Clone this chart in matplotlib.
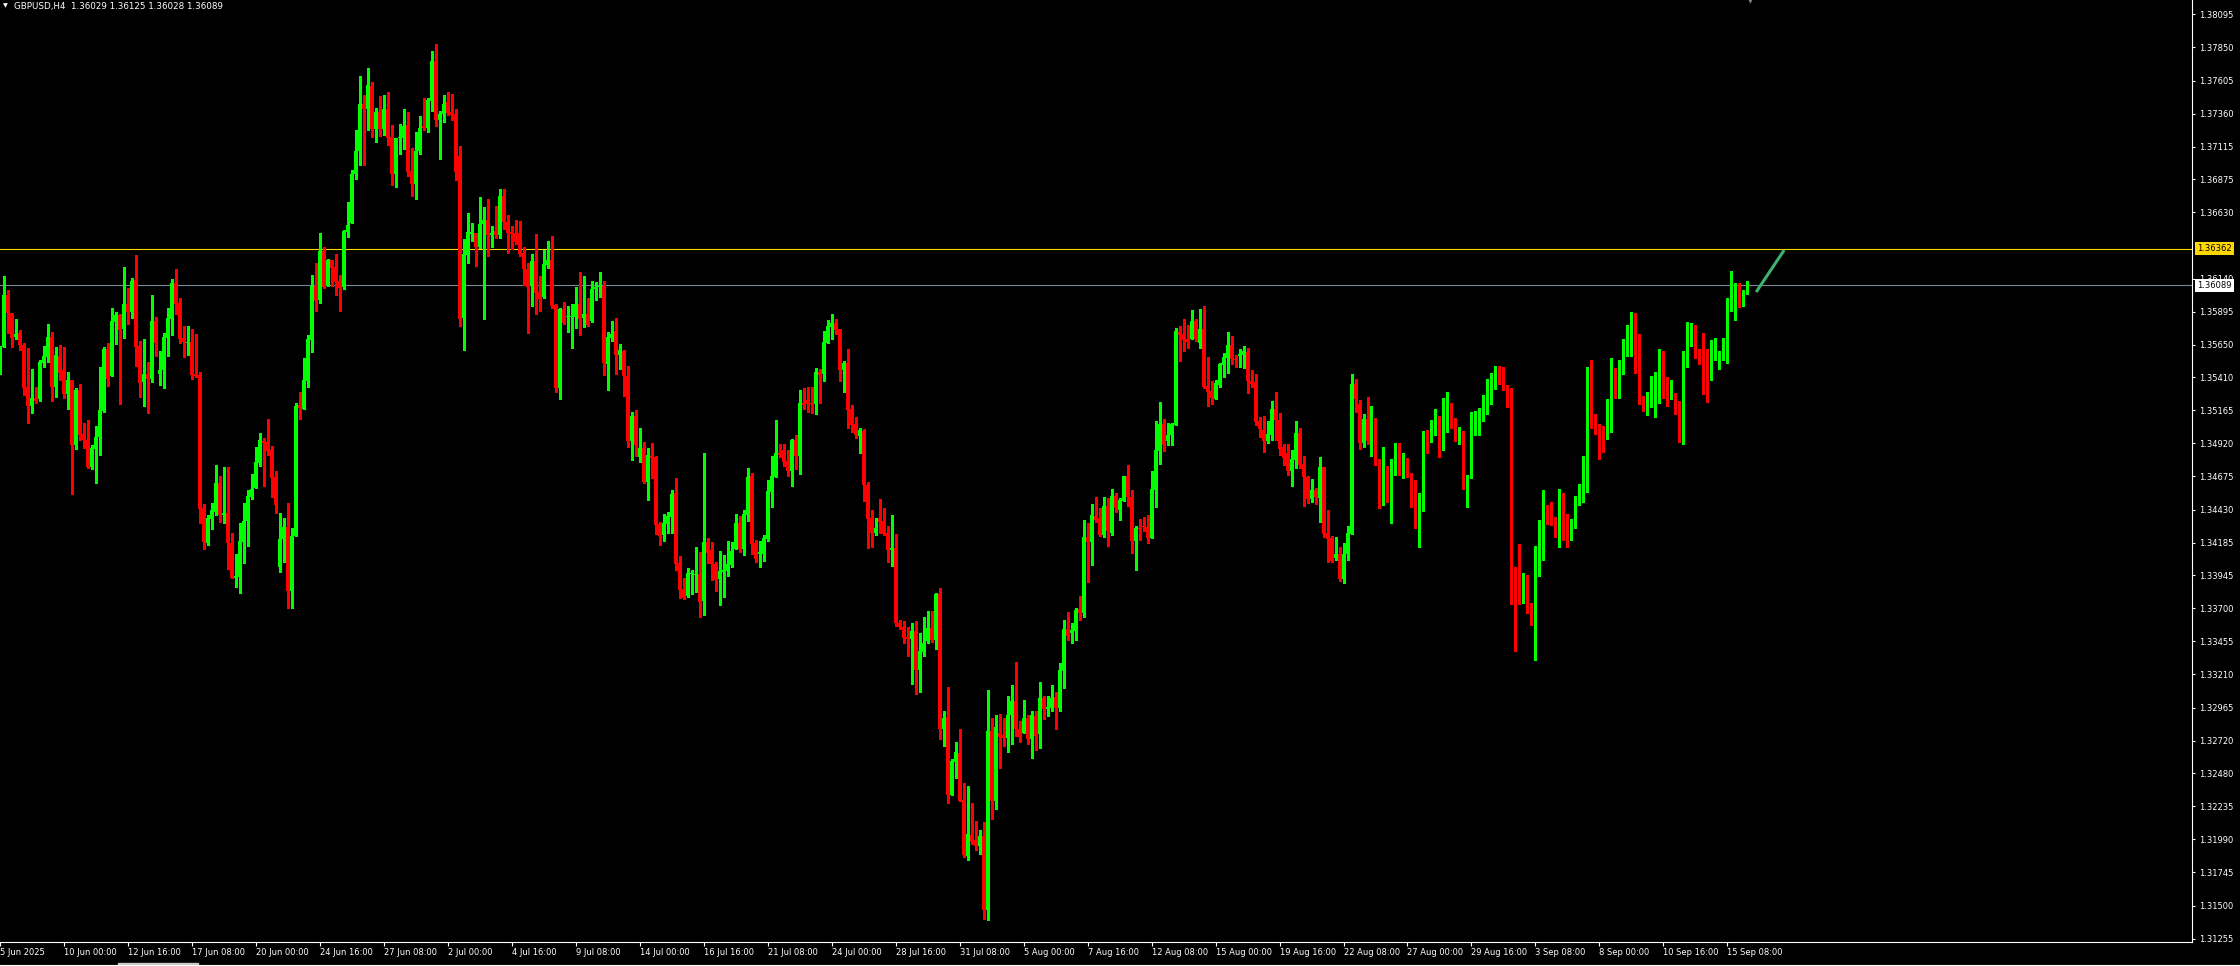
import numpy as np
import matplotlib
matplotlib.use("Agg")
import matplotlib.pyplot as plt
import matplotlib.transforms as mtransforms
from matplotlib.lines import Line2D
from matplotlib.patches import Rectangle

# GBPUSD H4 candles, values in points above 1.30000 (first entry is the half-cut bar at the left edge)
opens = [
    5438, 5636, 6018, 5882, 5710, 5734, 5645, 5337, 5199, 5253, 5251,
    5517, 5562, 5707, 5340, 5567, 5463, 5285, 5389, 4910, 5315,
    4989, 4945, 4745, 4881, 4967, 5159, 5618, 5421, 5821, 5870,
    5769, 5951, 5895, 6129, 5641, 5377, 5433, 5399, 5826, 5433,
    5465, 5702, 5843, 6107, 5959, 5702, 5665, 5670, 5433, 5426,
    4439, 4185, 4363, 4414, 4627, 4390, 4402, 4185, 3926, 3933,
    4192, 4345, 4525, 4592, 4777, 4937, 4930, 4871, 4671, 4007,
    4210, 4301, 3827, 4237, 5201, 5178, 5382, 5688, 6083, 5983,
    6342, 6086, 6278, 6225, 6119, 6078, 6484, 6551, 6910, 7080,
    7431, 7394, 7561, 7250, 7372, 7250, 7394, 7186, 6910, 7180,
    7180, 7277, 6935, 6843, 7080, 7269, 7255, 7455, 7751, 7316,
    7358, 7444, 7372, 7358, 7046, 5849, 6314, 6473, 6476, 6373,
    6540, 6573, 6459, 6492, 6462, 6751, 6559, 6484, 6478, 6478,
    6328, 6214, 6086, 6270, 6041, 6000, 6242, 6278, 5944, 5330,
    5916, 5855, 5857, 5857, 5955, 5849, 5874, 5822, 6064, 6080,
    6086, 5510, 5702, 5751, 5574, 5603, 5418, 4937, 5122, 4819,
    4886, 4634, 4826, 4819, 4323, 4244, 4323, 4375, 4552, 4034,
    3840, 3790, 3953, 3946, 3953, 3753, 4190, 4131, 4027, 3916,
    3968, 3975, 4020, 4138, 4330, 4138, 4390, 4678, 4182, 4101,
    4101, 4212, 4560, 4671, 4849, 4871, 4789, 4715, 4945, 4826,
    5219, 5241, 5219, 5211, 5448, 5433, 5663, 5781, 5811, 5766,
    5463, 5515, 5174, 5063, 4975, 5012, 4612, 4367, 4256, 4367,
    4345, 4256, 4131, 4145, 3590, 3558, 3486, 3474, 3531, 3246,
    3379, 3460, 3555, 3466, 3804, 2803, 2895, 2321, 2562, 2630,
    2282, 1869, 2024, 1985, 1940, 2018, 1468, 2791, 2276, 2776,
    2764, 2740, 2910, 3014, 2803, 2776, 2889, 2734, 2904, 2770,
    3037, 2954, 2963, 3043, 2963, 3237, 3546, 3513, 3534, 3694,
    3668, 4227, 4191, 4384, 4369, 4241, 4456, 4256, 4530, 4429,
    4497, 4675, 4524, 4197, 4295, 4307, 4301, 4221, 4577, 4866,
    5062, 4937, 4979, 5059, 5743, 5728, 5692, 5689, 5826, 5665,
    5767, 5342, 5307, 5251, 5352, 5500, 5554, 5648, 5544, 5569,
    5574, 5596, 5382, 5374, 5086, 5019, 4937, 4982, 5174, 5093,
    4891, 4846, 4715, 4797, 4997, 4767, 4674, 4506, 4575, 4518,
    4743, 4254, 4222, 4074, 4101, 3919, 4101, 4252, 5359, 5211,
    4925, 5100, 4940, 5078, 4782, 4545, 4708, 4642, 4782, 4797,
    4708, 4745, 4693, 4553, 4400, 4451, 5004, 4930, 5019, 5034,
    4997, 5049, 5204, 5071, 4975, 4989, 4582, 4679, 5019, 5012,
    5108, 5226, 5285, 5352, 5419, 5411, 5352, 5204, 3990, 3924,
    3827, 3916, 3687, 3608, 4059, 4156, 4405, 4390, 4360, 4264,
    4390, 4375, 4205, 4293, 4501, 4597, 4797, 5478, 5122, 5026,
    5004, 4952, 5071, 5441, 5263, 5433, 5655, 5781, 5863, 5537,
    5256, 5197, 5211, 5337, 5404, 5544, 5337, 5248, 5285, 5152,
    5012, 5507, 5692, 5707, 5567, 5567, 5456, 5448, 5582, 5507,
    5574, 5611, 5907, 5944, 6085, 5996, 6029,
]
highs = [
    5640, 6159, 6055, 5882, 5840, 5759, 5660, 5623, 5468, 5335, 5537,
    5640, 5803, 5744, 5631, 5645, 5631, 5448, 5392, 5330, 5359,
    5068, 5093, 4910, 5048, 5485, 5631, 5660, 5919, 5895, 5877,
    6225, 6070, 6141, 6314, 5678, 5692, 5522, 6018, 5853, 5604,
    5737, 5922, 6136, 6210, 5993, 5786, 5789, 5766, 5729, 5446,
    4471, 4387, 4476, 4760, 4678, 4743, 4743, 4254, 4101, 4331,
    4476, 4575, 4693, 4891, 4997, 4957, 5100, 4900, 4715, 4404,
    4368, 4479, 4294, 5219, 5301, 5551, 5721, 6167, 6256, 6476,
    6370, 6286, 6280, 6325, 6164, 6498, 6704, 6941, 7236, 7639,
    7497, 7698, 7595, 7403, 7492, 7497, 7520, 7277, 7180, 7283,
    7394, 7372, 7105, 7225, 7339, 7475, 7475, 7823, 7876, 7380,
    7497, 7520, 7506, 7394, 7122, 6431, 6626, 6551, 6480, 6743,
    6670, 6729, 6529, 6676, 6801, 6801, 6607, 6531, 6573, 6565,
    6370, 6258, 6323, 6470, 6155, 6350, 6414, 6456, 5952, 5924,
    5966, 5933, 5955, 6080, 6189, 6158, 5997, 6119, 6114, 6189,
    6119, 5744, 5825, 5848, 5655, 5611, 5492, 5152, 5167, 5034,
    4930, 4886, 4923, 4826, 4338, 4397, 4412, 4575, 4664, 4086,
    3923, 3997, 3983, 4153, 4116, 4846, 4219, 4190, 4042, 4123,
    4094, 4197, 4190, 4397, 4382, 4427, 4737, 4700, 4205, 4197,
    4241, 4649, 4826, 5093, 4915, 4915, 4871, 4952, 4982, 5315,
    5330, 5337, 5337, 5478, 5470, 5751, 5833, 5877, 5840, 5766,
    5529, 5618, 5204, 5115, 5034, 5026, 4634, 4427, 4367, 4508,
    4441, 4308, 4390, 4249, 3610, 3602, 3564, 3587, 3602, 3513,
    3632, 3680, 3680, 3813, 3849, 2939, 3118, 2583, 2710, 2805,
    2404, 2386, 2258, 2125, 2059, 2119, 3094, 2889, 2910, 2918,
    2889, 3052, 3133, 3302, 2865, 3023, 2910, 2939, 2939, 3153,
    3052, 3052, 3133, 3079, 3296, 3614, 3674, 3590, 3700, 3790,
    4354, 4331, 4470, 4521, 4441, 4521, 4515, 4583, 4554, 4515,
    4681, 4759, 4574, 4307, 4360, 4375, 4390, 4717, 5089, 5226,
    5104, 5071, 5074, 5773, 5787, 5841, 5796, 5906, 5841, 5915,
    5936, 5558, 5379, 5389, 5517, 5589, 5744, 5715, 5574, 5616,
    5641, 5623, 5463, 5433, 5115, 5123, 5086, 5234, 5300, 5145,
    4915, 4915, 4871, 5086, 5034, 4826, 4678, 4656, 4592, 4817,
    4745, 4427, 4234, 4227, 4153, 4183, 4306, 5433, 5396, 5241,
    5137, 5263, 5197, 5108, 4804, 4893, 4755, 4804, 4923, 4923,
    4849, 4812, 4701, 4649, 4553, 5012, 5019, 5093, 5174, 5123,
    5256, 5300, 5219, 5108, 5041, 5012, 4686, 5152, 5160, 5182,
    5278, 5396, 5441, 5493, 5493, 5485, 5352, 5330, 4007, 4175,
    3961, 3946, 3741, 4163, 4353, 4575, 4464, 4486, 4375, 4582,
    4553, 4397, 4360, 4530, 4619, 4826, 5485, 5537, 5137, 5063,
    5049, 5248, 5552, 5478, 5537, 5692, 5796, 5892, 5885, 5729,
    5271, 5300, 5419, 5448, 5618, 5604, 5411, 5389, 5293, 5234,
    5604, 5818, 5811, 5796, 5618, 5737, 5618, 5685, 5700, 5604,
    5700, 5996, 6196, 6107, 6107, 6055, 6125,
]
lows = [
    5430, 5631, 5739, 5636, 5692, 5611, 5278, 5068, 5147, 5216, 5233,
    5488, 5525, 5233, 5266, 5389, 5256, 5174, 4545, 4878, 4945,
    4886, 4738, 4728, 4627, 4834, 5152, 5344, 5418, 5655, 5211,
    5700, 5803, 5848, 5492, 5263, 5199, 5147, 5377, 5567, 5349,
    5332, 5567, 5722, 5877, 5665, 5562, 5574, 5399, 5414, 4328,
    4141, 4165, 4289, 4387, 4340, 4328, 3993, 3921, 3859, 3815,
    4032, 4163, 4506, 4587, 4752, 4607, 4834, 4525, 4402, 3970,
    4044, 3700, 3704, 4234, 5103, 5178, 5340, 5599, 5897, 5961,
    6069, 6086, 6086, 6019, 5897, 6064, 6448, 6551, 6879, 6977,
    6982, 7236, 7186, 7152, 7191, 7200, 7130, 6832, 6818, 7060,
    7099, 6902, 6754, 6732, 7060, 7238, 7227, 7380, 7272, 7027,
    7297, 7347, 7311, 6871, 5785, 5613, 6258, 6420, 6231, 6364,
    5844, 6309, 6373, 6442, 6442, 6509, 6331, 6359, 6398, 6309,
    6091, 5738, 5936, 5880, 5897, 5998, 6220, 5919, 5300, 5245,
    5800, 5746, 5626, 5774, 5724, 5780, 5785, 5820, 5980, 6002,
    5426, 5315, 5677, 5433, 5470, 5270, 4893, 4797, 4826, 4782,
    4630, 4501, 4664, 4249, 4168, 4197, 4256, 4256, 3983, 3775,
    3768, 3783, 3805, 3820, 3635, 3650, 4034, 3909, 3827, 3724,
    3783, 3938, 4005, 4138, 4116, 4094, 4345, 4101, 4042, 4005,
    4049, 4197, 4449, 4671, 4819, 4752, 4678, 4604, 4730, 4693,
    5174, 5152, 5145, 5137, 5219, 5381, 5663, 5692, 5729, 5381,
    5300, 5034, 5004, 4960, 4849, 4493, 4145, 4153, 4241, 4256,
    4241, 4042, 4012, 3570, 3545, 3439, 3350, 3141, 3067, 3082,
    3344, 3439, 3451, 3400, 2731, 2681, 2258, 2315, 2443, 2276,
    1860, 1839, 1952, 1914, 1884, 1399, 1393, 2143, 2211, 2517,
    2681, 2633, 2693, 2752, 2710, 2776, 2696, 2588, 2651, 2666,
    2877, 2904, 2942, 2803, 2942, 3112, 3462, 3442, 3468, 3614,
    3638, 3894, 4021, 4337, 4236, 4230, 4164, 4241, 4414, 4354,
    4491, 4459, 4108, 3980, 4206, 4271, 4182, 4221, 4450, 4771,
    4866, 4910, 4910, 5059, 5526, 5603, 5624, 5689, 5674, 5624,
    5333, 5193, 5214, 5251, 5340, 5414, 5443, 5507, 5488, 5488,
    5480, 5295, 5340, 5056, 4970, 4858, 4925, 4945, 4945, 4834,
    4760, 4686, 4604, 4740, 4740, 4459, 4476, 4486, 4469, 4340,
    4229, 4044, 4044, 4057, 3901, 3889, 4057, 4252, 5155, 4881,
    4896, 4915, 4829, 4762, 4444, 4466, 4488, 4333, 4686, 4686,
    4664, 4671, 4449, 4296, 4155, 4422, 4851, 4930, 4982, 4821,
    4871, 5004, 5034, 4937, 4915, 4582, 4452, 4664, 4982, 4982,
    5086, 5137, 5211, 5322, 5359, 5315, 5192, 3734, 3386, 3734,
    3741, 3662, 3578, 3319, 3941, 4059, 4323, 4316, 4227, 4153,
    4205, 4153, 4205, 4293, 4464, 4486, 4560, 5034, 4989, 4804,
    4856, 4952, 5004, 5256, 5256, 5433, 5567, 5567, 5441, 5211,
    5160, 5130, 5189, 5115, 5219, 5256, 5197, 5248, 5137, 4930,
    4915, 5485, 5641, 5552, 5507, 5285, 5226, 5389, 5537, 5470,
    5537, 5515, 5900, 5833, 5929, 5937, 6028,
]
closes = [
    5636, 6018, 5882, 5702, 5729, 5645, 5332, 5199, 5253, 5233, 5522,
    5564, 5707, 5340, 5571, 5443, 5285, 5389, 4910, 5315, 4982,
    4945, 4745, 4886, 4967, 5167, 5618, 5399, 5826, 5870, 5761,
    5951, 5895, 6122, 5636, 5369, 5433, 5399, 5826, 5665, 5463,
    5707, 5848, 6107, 5954, 5692, 5673, 5670, 5426, 5421, 4437,
    4192, 4368, 4427, 4627, 4390, 4407, 4185, 3926, 3938, 4197,
    4345, 4530, 4580, 4784, 4945, 4925, 4863, 4666, 4464, 4212,
    4301, 3827, 4234, 5199, 5181, 5390, 5691, 6083, 5975, 6342,
    6075, 6278, 6220, 6114, 6072, 6490, 6534, 6913, 7083, 7431,
    7394, 7570, 7250, 7372, 7250, 7394, 7180, 6910, 7180, 7186,
    7269, 6929, 6843, 7083, 7255, 7255, 7461, 7751, 7316, 7358,
    7431, 7367, 7353, 6929, 5844, 6323, 6484, 6484, 6373, 6542,
    6573, 6459, 6478, 6459, 6751, 6559, 6478, 6473, 6412, 6323,
    6214, 6080, 6270, 6036, 5988, 6247, 6278, 5938, 5330, 5916,
    5808, 5866, 5863, 5955, 5844, 5874, 5799, 6064, 6080, 6086,
    5515, 5707, 5729, 5574, 5611, 5418, 4937, 5122, 4908, 4886,
    4634, 4834, 4812, 4316, 4234, 4330, 4382, 4545, 4027, 3835,
    3775, 3960, 3960, 3953, 3746, 4190, 4108, 4027, 3909, 3975,
    3983, 4027, 4123, 4330, 4138, 4397, 4671, 4175, 4064, 4116,
    4219, 4567, 4678, 4849, 4834, 4782, 4715, 4945, 4826, 5219,
    5204, 5211, 5211, 5448, 5426, 5670, 5788, 5811, 5759, 5463,
    5515, 5167, 5056, 4982, 5019, 4612, 4360, 4256, 4293, 4338,
    4249, 4131, 4145, 3590, 3564, 3483, 3474, 3531, 3246, 3385,
    3442, 3555, 3466, 3804, 2803, 2889, 2321, 2571, 2636, 2276,
    1875, 2030, 1973, 1940, 2015, 1468, 2791, 2276, 2820, 2746,
    2740, 2910, 3014, 2803, 2749, 2889, 2734, 2910, 2758, 3037,
    2951, 2972, 3037, 2963, 3243, 3546, 3492, 3540, 3688, 3668,
    4227, 4188, 4390, 4354, 4241, 4456, 4268, 4530, 4441, 4500,
    4675, 4524, 4197, 4295, 4286, 4301, 4221, 4583, 4872, 5062,
    4910, 4982, 5062, 5752, 5722, 5686, 5668, 5826, 5689, 5767,
    5339, 5300, 5258, 5364, 5507, 5559, 5648, 5542, 5537, 5581,
    5604, 5382, 5359, 5081, 5029, 4937, 4989, 5174, 5095, 4878,
    4814, 4715, 4804, 4997, 4760, 4674, 4506, 4575, 4525, 4743,
    4252, 4212, 4052, 4101, 3919, 4101, 4257, 5359, 5251, 4925,
    5100, 4940, 5078, 4777, 4538, 4708, 4634, 4789, 4797, 4708,
    4738, 4686, 4538, 4400, 4456, 5004, 4925, 5034, 5034, 5004,
    5056, 5204, 5041, 4967, 4989, 4582, 4686, 5019, 5026, 5115,
    5241, 5293, 5359, 5419, 5374, 5352, 5197, 3978, 3916, 3827,
    3909, 3679, 3608, 4072, 4160, 4405, 4360, 4353, 4264, 4390,
    4375, 4205, 4286, 4508, 4604, 4804, 5478, 5108, 5034, 4997,
    4952, 5078, 5441, 5263, 5426, 5663, 5781, 5863, 5530, 5248,
    5182, 5219, 5345, 5419, 5537, 5330, 5226, 5293, 5145, 5012,
    5515, 5700, 5715, 5559, 5559, 5448, 5448, 5589, 5589, 5582,
    5618, 5914, 5951, 6085, 5981, 6025, 6089,
]

# time axis labels (every 16th H4 bar) and price axis labels
time_labels = ["5 Jun 2025", "10 Jun 00:00", "12 Jun 16:00", "17 Jun 08:00", "20 Jun 00:00",
               "24 Jun 16:00", "27 Jun 08:00", "2 Jul 00:00", "4 Jul 16:00", "9 Jul 08:00",
               "14 Jul 00:00", "16 Jul 16:00", "21 Jul 08:00", "24 Jul 00:00", "28 Jul 16:00",
               "31 Jul 08:00", "5 Aug 00:00", "7 Aug 16:00", "12 Aug 08:00", "15 Aug 00:00",
               "19 Aug 16:00", "22 Aug 08:00", "27 Aug 00:00", "29 Aug 16:00", "3 Sep 08:00",
               "8 Sep 00:00", "10 Sep 16:00", "15 Sep 08:00"]
price_ticks = [1.38095, 1.37850, 1.37605, 1.37360, 1.37115, 1.36875, 1.36630, 1.36140,
               1.35895, 1.35650, 1.35410, 1.35165, 1.34920, 1.34675, 1.34430, 1.34185,
               1.33945, 1.33700, 1.33455, 1.33210, 1.32965, 1.32720, 1.32480, 1.32235,
               1.31990, 1.31745, 1.31500, 1.31255]

level_price = 1.36362
bid_price = 1.36089
title = "GBPUSD,H4  1.36029 1.36125 1.36028 1.36089"
trend_x = [438.2, 445.2]
trend_y = [1.36040, 1.36350]

BASE = 1.30000
W, H = 2240, 966

o = BASE + np.array(opens) / 1e5
c = BASE + np.array(closes) / 1e5
h = np.maximum(BASE + np.array(highs) / 1e5, np.maximum(o, c))
l = np.minimum(BASE + np.array(lows) / 1e5, np.minimum(o, c))
x = np.arange(len(o)) - 1

plt.rcParams['font.family'] = ['DejaVu Sans']
fig = plt.figure(figsize=(W / 100, H / 100), dpi=100, facecolor='black')
ax = fig.add_axes([0, 24 / H, 2192 / W, 942 / H])
ax.set_facecolor('black')

up = c >= o
cols = np.where(up, '#00ff00', '#ff0000')
ax.vlines(x, l, h, colors=cols, linewidth=0.75, antialiased=False, zorder=3)
ax.bar(x, np.maximum(np.abs(c - o), 0.00008), bottom=np.minimum(o, c), width=0.75,
       color=cols, linewidth=0, antialiased=False, zorder=4)

ax.axhline(level_price, color='#ffd700', lw=0.8, zorder=2)
ax.axhline(bid_price, color='#778899', lw=0.8, zorder=2)
ax.plot(trend_x, trend_y, color='#3cb371', lw=2.2, solid_capstyle='butt', zorder=5)

ax.set_xlim(-0.825, 547.2)
ax.set_ylim(1.31230, 1.38201)

# spines / axes in MT4 style
for s in ['left', 'top']:
    ax.spines[s].set_visible(False)
for s in ['right', 'bottom']:
    ax.spines[s].set_color('white')
    ax.spines[s].set_linewidth(0.8)

tick_bars = [-1] + list(range(15, 432, 16))
ax.set_xticks(tick_bars)
ax.set_xticklabels(time_labels)
ax.tick_params(axis='x', colors='white', length=3, width=0.8, pad=1.5, labelsize=6, direction='out')
for lab in ax.get_xticklabels():
    lab.set_horizontalalignment('left')

ax.yaxis.tick_right()
ax.set_yticks(price_ticks)
ax.set_yticklabels([f"{p:.5f}" for p in price_ticks])
ax.tick_params(axis='y', colors='white', length=1.8, width=0.8, pad=3.5, labelsize=6, direction='out')

# price labels for the horizontal lines
trans = mtransforms.blended_transform_factory(ax.transAxes, ax.transData)
ax.text(1 + 5 / 2192, level_price, f"{level_price:.5f}", transform=trans, ha='left', va='center',
        fontsize=6, color='black', zorder=10, clip_on=False,
        bbox=dict(boxstyle='square,pad=0.25', fc='#ffd700', ec='none'))
ax.text(1 + 5 / 2192, bid_price, f"{bid_price:.5f}", transform=trans, ha='left', va='center',
        fontsize=6, color='black', zorder=10, clip_on=False,
        bbox=dict(boxstyle='square,pad=0.25', fc='white', ec='none'))

# header text and small markers
fig.text(3 / W, 1 - 6 / H, "\u25bc", color='white', fontsize=4.5, va='center')
fig.text(14 / W, 1 - 6 / H, title, color='white', fontsize=6.3, va='center')
fig.text(1750 / W, 1 - 2 / H, "\u25bc", color='#808080', fontsize=4.5, va='center', ha='center')

# window bottom border
fig.add_artist(Line2D([0, 1], [1.5 / H, 1.5 / H], color='white', lw=0.8, transform=fig.transFigure))
fig.add_artist(Rectangle((118 / W, 0), 80 / W, 3 / H, color='#c8c8c8', transform=fig.transFigure))

fig.savefig('out.png', dpi=100, facecolor='black')
